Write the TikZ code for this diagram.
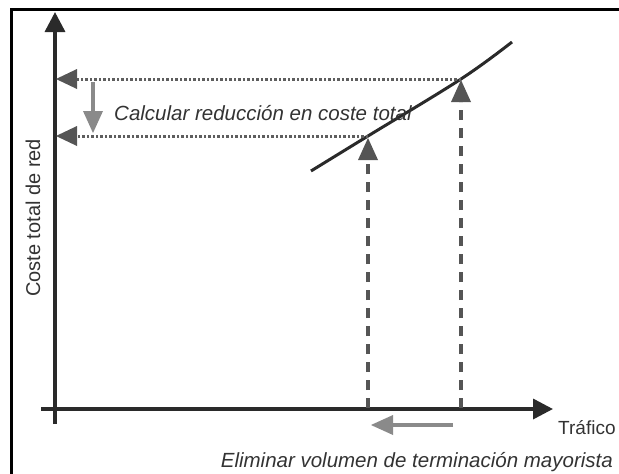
\documentclass[tikz,border=0pt]{standalone}
\usepackage{fontspec}
\setmainfont{Liberation Sans}
\usetikzlibrary{arrows.meta}
\definecolor{axisc}{HTML}{2A2A2A}
\definecolor{dotc}{HTML}{5E5E5E}
\definecolor{dashc}{HTML}{555555}
\definecolor{lightarr}{HTML}{8A8A8A}
\definecolor{txtc}{HTML}{333333}
\tikzset{
  axisline/.style={draw=axisc,line width=3.5pt,-{Triangle[length=20pt,width=20pt]}},
  dotline/.style={draw=dotc,line width=3pt,dash pattern=on 2.5pt off 2pt,-{Triangle[length=21pt,width=20pt,fill=dashc,line width=0pt]}},
  dashline/.style={draw=dashc,line width=3.5pt,dash pattern=on 10pt off 8pt,-{Triangle[length=22pt,width=20pt,fill=dashc,line width=0pt]}},
  grayarrow/.style={draw=lightarr,line width=3.5pt,-{Triangle[length=22pt,width=20pt,line width=0pt]}},
  lbl/.style={text=txtc,font=\fontsize{20}{24}\selectfont,inner sep=0pt},
  ilbl/.style={lbl,font=\fontsize{20.5}{24}\selectfont\itshape},
}
\begin{document}
\begin{tikzpicture}[x=1pt,y=-1pt]
\useasboundingbox (0,0) rectangle (619,474);
% frame (top and left edges visible)
\draw[black,line width=3pt] (11,490) -- (11,9) -- (640,9);
% coordinates
\coordinate (ybot) at (55,424);
\coordinate (ytop) at (55,12);
\coordinate (xl) at (41,409);
\coordinate (xr) at (553,409);
\coordinate (p0) at (311,171);
\coordinate (pA) at (368,136);
\coordinate (pB) at (461,79);
\coordinate (p1) at (512,42);
\coordinate (yA) at (56,136);
\coordinate (yB) at (56,79);
\coordinate (bA) at (368,408);
\coordinate (bB) at (461,408);
\coordinate (tA) at (368,138);
\coordinate (tB) at (461,80);
\coordinate (dtop) at (93,82);
\coordinate (dbot) at (93,133);
\coordinate (lr) at (453,425);
\coordinate (ll) at (371,425);
% axes
\draw[axisline] (ybot) -- (ytop);
\draw[axisline] (xl) -- (xr);
% curve
\draw[axisc,line width=3pt] plot[smooth,tension=0.6] coordinates {(p0) (pA) (pB) (p1)};
% dotted projections
\draw[dotline] (pB) -- (yB);
\draw[dotline] (pA) -- (yA);
% dashed verticals
\draw[dashline] (bA) -- (tA);
\draw[dashline] (bB) -- (tB);
% gray arrows
\draw[grayarrow] (dtop) -- (dbot);
\draw[grayarrow] (lr) -- (ll);
% labels
\node[ilbl,anchor=west] (calc) at (114,113) {Calcular reducción en coste total};
\node[lbl,anchor=west,font=\fontsize{19}{23}\selectfont] (traf) at (558,428) {Tráfico};
\node[ilbl,anchor=east] (elim) at (613,462) {Eliminar volumen de terminación mayorista};
\node[lbl,rotate=90] (ylab) at (33,218) {Coste total de red};
\end{tikzpicture}
\end{document}
